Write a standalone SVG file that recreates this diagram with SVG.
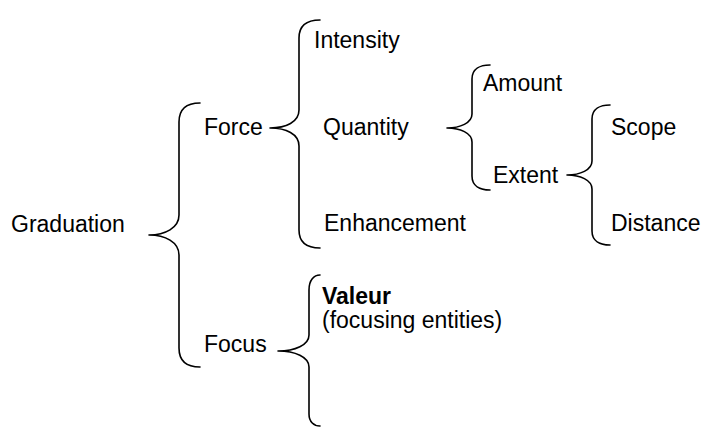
<svg xmlns="http://www.w3.org/2000/svg" width="704" height="428" viewBox="0 0 704 428">
  <style>
    .lbl { font-family: "Liberation Sans", Arial, Helvetica, sans-serif; font-size: 23px; fill: #000; }
    .bold { font-weight: bold; }
    .brace { fill: none; stroke: #000; stroke-width: 1.6; stroke-linecap: round; stroke-linejoin: round; }
  </style>
  <rect width="704" height="428" fill="#fff"/>

  <!-- braces connecting each term to its subsystems -->
  <g id="connectors">
    <path class="brace" d="M200,103 C188,103 179,108 179,122 L179,215 C179,228 165,235 149,235 C165,235 179,242 179,255 L179,348 C179,362 188,367 200,367"/>
    <path class="brace" d="M320,20 C308,20 299,25 299,38 L299,110 C299,122 286,128 270,128 C286,128 299,134 299,146 L299,230 C299,243 308,248 320,248"/>
    <path class="brace" d="M320,275 C314,275 309,280 309,290 L309,335 C309,345 295,351 278,351 C295,351 309,357 309,367 L309,414 C309,422 314,426 320,426"/>
    <path class="brace" d="M490,65 C480,65 472,69 472,79 L472,114 C472,123 460,128 447,128 C460,128 472,133 472,142 L472,176 C472,186 480,190 490,190"/>
    <path class="brace" d="M610,105 C600,105 592,109 592,119 L592,161 C592,170 580,175 567,175 C580,175 592,180 592,189 L592,231 C592,241 600,245 610,245"/>
  </g>

  <g id="graduation"><text class="lbl" x="11" y="232">Graduation</text></g>
  <g id="force"><text class="lbl" x="204" y="135">Force</text></g>
  <g id="focus"><text class="lbl" x="204" y="352">Focus</text></g>
  <g id="intensity"><text class="lbl" x="314" y="48">Intensity</text></g>
  <g id="quantity"><text class="lbl" x="323" y="135">Quantity</text></g>
  <g id="enhancement"><text class="lbl" x="324" y="231">Enhancement</text></g>
  <g id="amount"><text class="lbl" x="483" y="91">Amount</text></g>
  <g id="extent"><text class="lbl" x="493" y="183">Extent</text></g>
  <g id="scope"><text class="lbl" x="611" y="135">Scope</text></g>
  <g id="distance"><text class="lbl" x="611" y="231">Distance</text></g>
  <g id="valeur">
    <text class="lbl bold" x="322" y="304">Valeur</text>
    <text class="lbl" x="322" y="328">(focusing entities)</text>
  </g>
</svg>
